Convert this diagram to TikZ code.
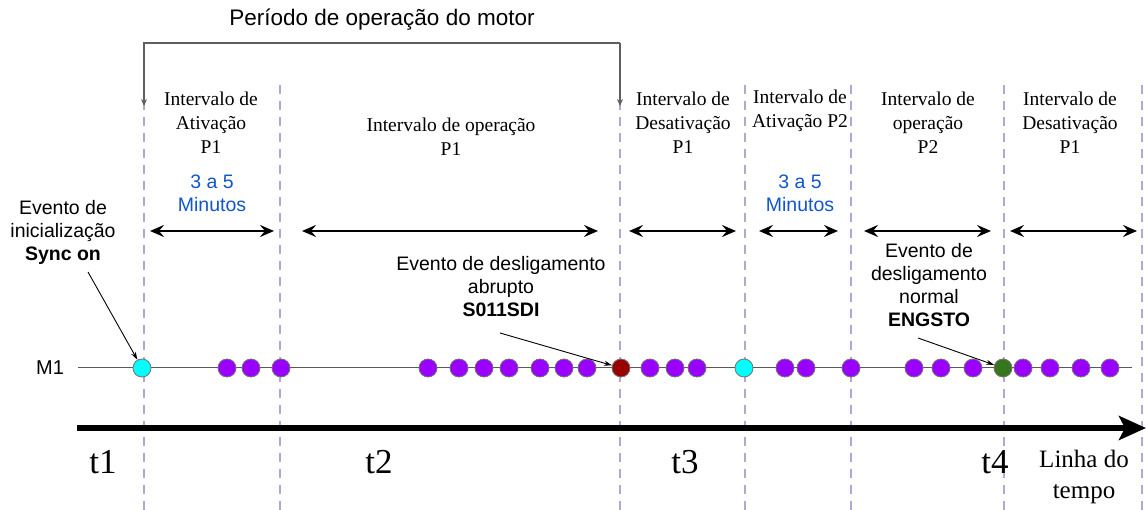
\documentclass[tikz,border=0pt]{standalone}
\usepackage{fontspec}
\setmainfont{Liberation Serif}
\setsansfont{Liberation Sans}
\usetikzlibrary{arrows.meta}
\definecolor{dashc}{HTML}{B4A7D6}
\definecolor{evpurple}{HTML}{9900FF}
\definecolor{evcyan}{HTML}{00FFFF}
\definecolor{evred}{HTML}{990000}
\definecolor{evgreen}{HTML}{38761D}
\definecolor{bluetxt}{HTML}{1155CC}
\definecolor{brk}{HTML}{5F5F5F}
\begin{document}
\begin{tikzpicture}[x=1pt,y=-1pt,
  serifl/.style={font=\fontsize{19.5}{24}\selectfont, align=center, inner sep=0},
  sansl/.style={font=\sffamily\fontsize{19.5}{23}\selectfont, align=center, inner sep=0},
  bluel/.style={sansl, text=bluetxt},
  tlab/.style={font=\fontsize{35}{35}\selectfont, inner sep=0},
  sepline/.style={dashc, line width=2, dash pattern=on 9 off 7},
  span/.style={line width=2.8, {Stealth[length=14,width=12,inset=5]}-{Stealth[length=14,width=12,inset=5]}},
  evarrow/.style={line width=0.9, -{Stealth[length=8,width=5]}},
  ev/.style={circle, minimum size=18, inner sep=0, draw=black!55, line width=0.8},
  pu/.style={ev, fill=evpurple},
  cy/.style={ev, fill=evcyan},
  rd/.style={ev, fill=evred},
  gr/.style={ev, fill=evgreen}]
\useasboundingbox (0,0) rectangle (1146,510);

% dashed separators
\foreach \x/\n in {144/a,280/b,620/c,745/d,851/e,1004/f,1142/g}{
  \coordinate (s\n top) at (\x,85);
  \coordinate (s\n bot) at (\x,510);
  \draw[sepline] (s\n top) -- (s\n bot);
}

% title and bracket
\node[sansl, font=\sffamily\fontsize{22.5}{26}\selectfont] (title) at (382,20) {Período de operação do motor};
\coordinate (brL) at (144,43);
\coordinate (brR) at (620,43);
\coordinate (brLe) at (144,106);
\coordinate (brRe) at (620,106);
\draw[brk, line width=1.2, -{Stealth[length=7,width=6]}] (brR) -- (brRe);
\draw[brk, line width=1.2, -{Stealth[length=7,width=6]}] (brR) -- (brL) -- (brLe);

% interval labels
\node[serifl] (i1) at (211,123) {Intervalo de\\Ativação\\P1};
\node[serifl] (i2) at (451,137) {Intervalo de operação\\P1};
\node[serifl] (i3) at (683,123) {Intervalo de\\Desativação\\P1};
\node[serifl] (i4) at (800,111) {Intervalo de\\Ativação P2};
\node[serifl] (i5) at (928,123) {Intervalo de\\operação\\P2};
\node[serifl] (i6) at (1070,123) {Intervalo de\\Desativação\\P1};

\node[bluel] (m1) at (212,193) {3 a 5\\Minutos};
\node[bluel] (m2) at (800,193) {3 a 5\\Minutos};

% span arrows
\foreach \a/\b/\n in {150/274/1,302/598/2,629/736/3,759/838/4,864/991/5,1010/1137/6}{
  \coordinate (p\n l) at (\a,231);
  \coordinate (p\n r) at (\b,231);
  \draw[span] (p\n l) -- (p\n r);
}

% event labels
\node[sansl] (evA) at (63,232) {Evento de\\inicialização\\\textbf{Sync on}};
\node[sansl] (evB) at (501,287) {Evento de desligamento\\abrupto\\\textbf{S011SDI}};
\node[sansl] (evC) at (929,285) {Evento de\\desligamento\\normal\\\textbf{ENGSTO}};

% M1 timeline
\node[sansl, font=\sffamily\fontsize{20}{22}\selectfont] (M1) at (50,368) {M1};
\coordinate (lnS) at (78,368);
\coordinate (lnE) at (1132,368);
\draw[black!65, line width=1] (lnS) -- (lnE);

\node[cy] (c1) at (142,368) {};
\foreach \x [count=\i] in {227,251,281,428,459,484,509,540,564,587,650,675,697,785,806,851,914,941,973,1023,1050,1081,1110}
  \node[pu] (q\i) at (\x,368) {};
\node[rd] (r1) at (621,368) {};
\node[cy] (c2) at (744,368) {};
\node[gr] (g1) at (1003,368) {};

% event arrows
\coordinate (aA) at (88,272);
\coordinate (aB) at (500,333);
\coordinate (aC) at (918,338);
\draw[evarrow] (aA) -- (c1);
\draw[evarrow] (aB) -- (r1);
\draw[evarrow] (aC) -- (g1);

% time axis
\coordinate (axS) at (77,428);
\coordinate (axE) at (1146,428);
\draw[line width=5.5, -{Stealth[length=27,width=24,inset=6]}] (axS) -- (axE);

\node[tlab] (t1) at (103,462) {t1};
\node[tlab] (t2) at (379,462) {t2};
\node[tlab] (t3) at (685,462) {t3};
\node[tlab] (t4) at (995,462) {t4};
\node[align=center, inner sep=0, font=\fontsize{25}{31}\selectfont] (lt) at (1084,477) {Linha do\\tempo};
\end{tikzpicture}
\end{document}
